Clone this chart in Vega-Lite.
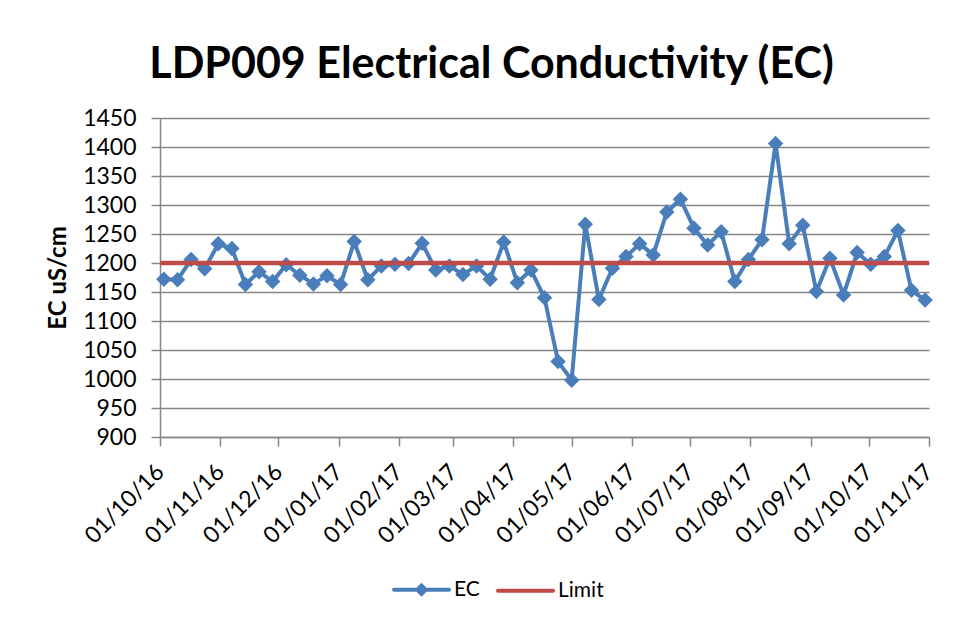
{
  "$schema": "https://vega.github.io/schema/vega-lite/v6.json",
  "width": 769,
  "height": 319,
  "autosize": {"type": "none"},
  "padding": {"left": 160, "top": 118, "right": 40, "bottom": 189},
  "background": "white",
  "config": {"view": {"stroke": null}},
  "title": {"text": "LDP009 Electrical Conductivity (EC)", "font": "Lato", "fontSize": 43, "fontWeight": "bold", "color": "#000000", "anchor": "middle", "frame": "group", "dx": -53, "dy": 54, "offset": 40, "baseline": "alphabetic"},
  "data": {"values": [
    {"date": "2016-10-03", "series": "EC", "value": 1172},
    {"date": "2016-10-10", "series": "EC", "value": 1171},
    {"date": "2016-10-17", "series": "EC", "value": 1206},
    {"date": "2016-10-24", "series": "EC", "value": 1190},
    {"date": "2016-10-31", "series": "EC", "value": 1233},
    {"date": "2016-11-07", "series": "EC", "value": 1225},
    {"date": "2016-11-14", "series": "EC", "value": 1163},
    {"date": "2016-11-21", "series": "EC", "value": 1185},
    {"date": "2016-11-28", "series": "EC", "value": 1168},
    {"date": "2016-12-05", "series": "EC", "value": 1197},
    {"date": "2016-12-12", "series": "EC", "value": 1179},
    {"date": "2016-12-19", "series": "EC", "value": 1164},
    {"date": "2016-12-26", "series": "EC", "value": 1178},
    {"date": "2017-01-02", "series": "EC", "value": 1163},
    {"date": "2017-01-09", "series": "EC", "value": 1237},
    {"date": "2017-01-16", "series": "EC", "value": 1171},
    {"date": "2017-01-23", "series": "EC", "value": 1195},
    {"date": "2017-01-30", "series": "EC", "value": 1198},
    {"date": "2017-02-06", "series": "EC", "value": 1199},
    {"date": "2017-02-13", "series": "EC", "value": 1234},
    {"date": "2017-02-20", "series": "EC", "value": 1188},
    {"date": "2017-02-27", "series": "EC", "value": 1195},
    {"date": "2017-03-06", "series": "EC", "value": 1180},
    {"date": "2017-03-13", "series": "EC", "value": 1195},
    {"date": "2017-03-20", "series": "EC", "value": 1172},
    {"date": "2017-03-27", "series": "EC", "value": 1236},
    {"date": "2017-04-03", "series": "EC", "value": 1166},
    {"date": "2017-04-10", "series": "EC", "value": 1188},
    {"date": "2017-04-17", "series": "EC", "value": 1140},
    {"date": "2017-04-24", "series": "EC", "value": 1030},
    {"date": "2017-05-01", "series": "EC", "value": 998},
    {"date": "2017-05-08", "series": "EC", "value": 1267},
    {"date": "2017-05-15", "series": "EC", "value": 1137},
    {"date": "2017-05-22", "series": "EC", "value": 1191},
    {"date": "2017-05-29", "series": "EC", "value": 1211},
    {"date": "2017-06-05", "series": "EC", "value": 1233},
    {"date": "2017-06-12", "series": "EC", "value": 1214},
    {"date": "2017-06-19", "series": "EC", "value": 1288},
    {"date": "2017-06-26", "series": "EC", "value": 1310},
    {"date": "2017-07-03", "series": "EC", "value": 1260},
    {"date": "2017-07-10", "series": "EC", "value": 1231},
    {"date": "2017-07-17", "series": "EC", "value": 1254},
    {"date": "2017-07-24", "series": "EC", "value": 1168},
    {"date": "2017-07-31", "series": "EC", "value": 1206},
    {"date": "2017-08-07", "series": "EC", "value": 1240},
    {"date": "2017-08-14", "series": "EC", "value": 1406},
    {"date": "2017-08-21", "series": "EC", "value": 1233},
    {"date": "2017-08-28", "series": "EC", "value": 1265},
    {"date": "2017-09-04", "series": "EC", "value": 1151},
    {"date": "2017-09-11", "series": "EC", "value": 1208},
    {"date": "2017-09-18", "series": "EC", "value": 1145},
    {"date": "2017-09-25", "series": "EC", "value": 1218},
    {"date": "2017-10-02", "series": "EC", "value": 1198},
    {"date": "2017-10-09", "series": "EC", "value": 1211},
    {"date": "2017-10-16", "series": "EC", "value": 1256},
    {"date": "2017-10-23", "series": "EC", "value": 1153},
    {"date": "2017-10-30", "series": "EC", "value": 1136},
    {"date": "2016-10-01", "series": "Limit", "value": 1200},
    {"date": "2017-11-01", "series": "Limit", "value": 1200}
  ]},
  "encoding": {
    "x": {
      "field": "date", "type": "temporal",
      "scale": {"type": "utc", "domain": [{"year": 2016, "month": 10, "date": 1, "utc": true}, {"year": 2017, "month": 11, "date": 1, "utc": true}]},
      "axis": {
        "title": null, "grid": false,
        "values": [
          {"year": 2016, "month": 10, "date": 1, "utc": true},
          {"year": 2016, "month": 11, "date": 1, "utc": true},
          {"year": 2016, "month": 12, "date": 1, "utc": true},
          {"year": 2017, "month": 1, "date": 1, "utc": true},
          {"year": 2017, "month": 2, "date": 1, "utc": true},
          {"year": 2017, "month": 3, "date": 1, "utc": true},
          {"year": 2017, "month": 4, "date": 1, "utc": true},
          {"year": 2017, "month": 5, "date": 1, "utc": true},
          {"year": 2017, "month": 6, "date": 1, "utc": true},
          {"year": 2017, "month": 7, "date": 1, "utc": true},
          {"year": 2017, "month": 8, "date": 1, "utc": true},
          {"year": 2017, "month": 9, "date": 1, "utc": true},
          {"year": 2017, "month": 10, "date": 1, "utc": true},
          {"year": 2017, "month": 11, "date": 1, "utc": true}
        ],
        "labelExpr": "utcFormat(datum.value, '%d/%m/%y')",
        "labelAngle": -45, "labelAlign": "right", "labelBaseline": "middle",
        "labelPadding": 22, "tickSize": 9, "labelOverlap": false, "labelFlush": false,
        "labelFont": "Lato", "labelFontSize": 23, "labelColor": "#000000",
        "domainColor": "#868686", "tickColor": "#868686", "domainWidth": 1.5, "tickWidth": 1.5
      }
    },
    "y": {
      "field": "value", "type": "quantitative",
      "scale": {"domain": [900, 1450], "nice": false, "zero": false},
      "axis": {
        "title": "EC uS/cm", "titleFont": "Lato", "titleFontSize": 24, "titleFontWeight": "bold", "titleColor": "#000000", "titlePadding": 12,
        "values": [900, 950, 1000, 1050, 1100, 1150, 1200, 1250, 1300, 1350, 1400, 1450],
        "format": "d",
        "labelFont": "Lato", "labelFontSize": 23, "labelColor": "#000000", "labelPadding": 15,
        "tickSize": 9, "tickColor": "#868686", "domainColor": "#868686", "domainWidth": 1.5, "tickWidth": 1.5,
        "gridColor": "#868686", "gridWidth": 1.5
      }
    }
  },
  "layer": [
    {
      "transform": [{"filter": "datum.series === 'EC'"}],
      "mark": {"type": "line", "strokeWidth": 4, "strokeCap": "round", "strokeJoin": "round"},
      "encoding": {
        "color": {"field": "series", "type": "nominal",
          "scale": {"domain": ["EC", "Limit"], "range": ["#4a7ebb", "#be4b48"]},
          "legend": {"orient": "none", "legendX": 232, "legendY": 442, "direction": "horizontal", "title": null,
            "symbolSize": 3025, "symbolStrokeWidth": 4, "labelFont": "Lato", "labelFontSize": 21, "labelColor": "#000000",
            "labelOffset": 3, "columnPadding": 10, "padding": 0,
            "encode": {"symbols": {"update": {
              "shape": {"signal": "datum.value === 'EC' ? 'M-1,0H1M-0.15,0L0,-0.15L0.15,0L0,0.15Z' : 'M-1,0H1'"},
              "fill": {"signal": "datum.value === 'EC' ? '#4a7ebb' : 'transparent'"},
              "strokeCap": {"value": "round"}
            }}}
          }
        }
      }
    },
    {
      "transform": [{"filter": "datum.series === 'EC'"}],
      "mark": {"type": "point", "shape": "diamond", "filled": true, "size": 240, "color": "#4a7ebb", "opacity": 1}
    },
    {
      "transform": [{"filter": "datum.series === 'Limit'"}],
      "mark": {"type": "line", "strokeWidth": 4.5, "strokeCap": "butt"},
      "encoding": {
        "color": {"field": "series", "type": "nominal",
          "scale": {"domain": ["EC", "Limit"], "range": ["#4a7ebb", "#be4b48"]},
          "legend": {"orient": "none", "legendX": 232, "legendY": 442, "direction": "horizontal", "title": null,
            "symbolSize": 3025, "symbolStrokeWidth": 4, "labelFont": "Lato", "labelFontSize": 21, "labelColor": "#000000",
            "labelOffset": 3, "columnPadding": 10, "padding": 0,
            "encode": {"symbols": {"update": {
              "shape": {"signal": "datum.value === 'EC' ? 'M-1,0H1M-0.15,0L0,-0.15L0.15,0L0,0.15Z' : 'M-1,0H1'"},
              "fill": {"signal": "datum.value === 'EC' ? '#4a7ebb' : 'transparent'"},
              "strokeCap": {"value": "round"}
            }}}
          }
        }
      }
    }
  ]
}
